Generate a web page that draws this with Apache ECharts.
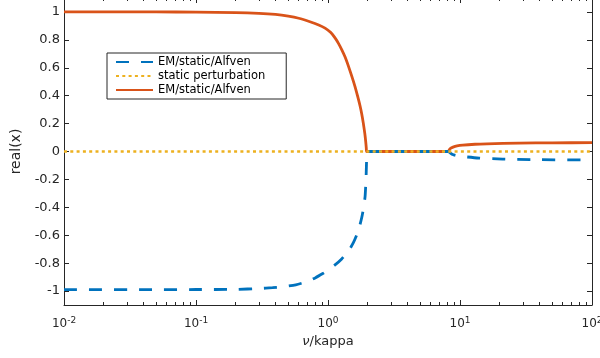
<!DOCTYPE html>
<html><head><meta charset="utf-8">
<script src="https://cdn.jsdelivr.net/npm/echarts@6/dist/echarts.min.js"></script>
<style>html,body{margin:0;padding:0;background:#fff}#c{width:600px;height:358px}</style>
</head><body><div id="c"></div>
<script>
// ---- data ----
const seriesNames = ['EM/static/Alfven', 'static perturbation', 'EM/static/Alfven\u200b'];
const blueX = [0.01, 0.05, 0.1, 0.2, 0.3, 0.38, 0.46, 0.57, 0.69, 0.8, 0.92, 1.0, 1.13, 1.27, 1.39, 1.47, 1.56, 1.65, 1.73, 1.8, 1.86, 1.91, 1.94, 1.955, 1.965, 1.97, 8.1, 8.8, 10, 14, 21, 35, 100];
const blueY = [-0.99, -0.99, -0.989, -0.988, -0.982, -0.976, -0.969, -0.955, -0.933, -0.906, -0.873, -0.851, -0.813, -0.77, -0.727, -0.695, -0.652, -0.599, -0.541, -0.475, -0.403, -0.322, -0.2, -0.1, -0.02, 0, 0, -0.022, -0.034, -0.047, -0.054, -0.058, -0.061];
const staticX = [0.01, 100];
const staticY = [0, 0];
const orangeX = [0.01, 0.05, 0.1, 0.2, 0.3, 0.4, 0.5, 0.6, 0.73, 0.85, 0.95, 1.05, 1.13, 1.2, 1.27, 1.35, 1.43, 1.52, 1.6, 1.68, 1.75, 1.8, 1.85, 1.9, 1.93, 1.95, 1.96, 8.1, 8.4, 8.85, 9.5, 10.5, 13, 16, 28, 50, 100];
const orangeY = [1, 1, 0.999, 0.995, 0.99, 0.982, 0.97, 0.955, 0.93, 0.907, 0.884, 0.852, 0.814, 0.775, 0.73, 0.675, 0.61, 0.535, 0.467, 0.393, 0.326, 0.271, 0.205, 0.13, 0.073, 0.025, 0, 0, 0.02, 0.031, 0.04, 0.046, 0.052, 0.055, 0.06, 0.062, 0.063];
const xMajorTicks = [0.01, 0.1, 1, 10, 100];
const xMinorTicks = [0.02, 0.03, 0.04, 0.05, 0.06, 0.07, 0.08, 0.09,
                     0.2, 0.3, 0.4, 0.5, 0.6, 0.7, 0.8, 0.9,
                     2, 3, 4, 5, 6, 7, 8, 9,
                     20, 30, 40, 50, 60, 70, 80, 90];
const yTicks = [-1, -0.8, -0.6, -0.4, -0.2, 0, 0.2, 0.4, 0.6, 0.8, 1];
const xName = '{i|\u03bd}/kappa';
const yName = 'real(x)';

// ---- chart ----
const AX = '#262626';
const FONT = 'DejaVu Sans';
const pairs = (xs, ys) => xs.map((x, i) => [x, ys[i]]);
const expOf = v => Math.round(Math.log10(v));

function xAxisDef(pos, ticks, len, showLine, showLabel) {
  return {
    type: 'log', logBase: 10, min: 0.01, max: 100, position: pos,
    axisLine: { show: showLine, onZero: false, lineStyle: { color: AX, width: 1 } },
    axisTick: { show: true, inside: true, length: len, customValues: ticks, lineStyle: { color: AX, width: 1 } },
    axisLabel: showLabel ? {
      show: true, customValues: ticks, margin: 11, color: AX,
      formatter: v => '{b|10}{s|' + expOf(v) + '}',
      rich: {
        b: { fontFamily: FONT, fontSize: 12, lineHeight: 16, color: AX },
        s: { fontFamily: FONT, fontSize: 9, lineHeight: 9, verticalAlign: 'top', color: AX }
      }
    } : { show: false },
    splitLine: { show: false },
    minorTick: { show: false },
    minorSplitLine: { show: false }
  };
}
function yAxisDef(pos, showLabel) {
  return {
    type: 'value', min: -1.1, max: 1.1, position: pos,
    axisLine: { show: true, onZero: false, lineStyle: { color: AX, width: 1 } },
    axisTick: { show: true, inside: true, length: 5, customValues: yTicks, lineStyle: { color: AX, width: 1 } },
    axisLabel: showLabel ? {
      show: true, customValues: yTicks, margin: 4, color: AX, fontFamily: FONT, fontSize: 13,
      formatter: v => String(Math.round(v * 10) / 10)
    } : { show: false },
    splitLine: { show: false }
  };
}

const xMain = xAxisDef('bottom', xMajorTicks, 5, true, true);
xMain.name = xName;
xMain.nameLocation = 'middle';
xMain.nameGap = 30;
xMain.nameTextStyle = { fontFamily: FONT, fontSize: 13, color: AX,
  rich: { i: { fontFamily: FONT, fontSize: 13, fontStyle: 'italic', color: AX } } };
const yMain = yAxisDef('left', true);
yMain.name = yName;
yMain.nameLocation = 'middle';
yMain.nameGap = 36;
yMain.nameTextStyle = { fontFamily: FONT, fontSize: 14, color: AX };

const chart = echarts.init(document.getElementById('c'), null, { renderer: 'canvas' });
chart.setOption({
  animation: false,
  backgroundColor: '#fff',
  grid: { left: 64, right: 8, top: -2, bottom: 53, containLabel: false, outerBoundsMode: 'none' },
  xAxis: [
    xMain,
    xAxisDef('bottom', xMinorTicks, 3, false, false),
    xAxisDef('top', xMajorTicks, 5, true, false),
    xAxisDef('top', xMinorTicks, 3, false, false)
  ],
  yAxis: [yMain, yAxisDef('right', false)],
  legend: {
    orient: 'vertical', left: 107, top: 53,
    data: seriesNames,
    itemWidth: 37, itemHeight: 13, itemGap: 2,
    padding: [3, 21, 3, 8],
    borderColor: AX, borderWidth: 1, backgroundColor: '#fff',
    itemStyle: { color: 'rgba(0,0,0,0)', borderWidth: 0, opacity: 0 },
    textStyle: { fontFamily: FONT, fontSize: 11.5, color: '#000' },
    selectedMode: false
  },
  series: [
    {
      name: seriesNames[0], type: 'line', data: pairs(blueX, blueY),
      showSymbol: false, symbol: 'none', z: 3, smooth: 0.2,
      lineStyle: { color: '#0072BD', width: 2.8, type: [13, 12], cap: 'butt' },
      itemStyle: { color: '#0072BD' }
    },
    {
      name: seriesNames[1], type: 'line', data: pairs(staticX, staticY),
      showSymbol: false, symbol: 'none', z: 4,
      lineStyle: { color: '#EDB120', width: 2.6, type: [3, 3.3], cap: 'butt' },
      itemStyle: { color: '#EDB120' }
    },
    {
      name: seriesNames[2], type: 'line', data: pairs(orangeX, orangeY),
      showSymbol: false, symbol: 'none', z: 2, smooth: 0.2,
      lineStyle: { color: '#D95319', width: 2.8, type: 'solid' },
      itemStyle: { color: '#D95319' }
    }
  ]
});
</script>
</body></html>
